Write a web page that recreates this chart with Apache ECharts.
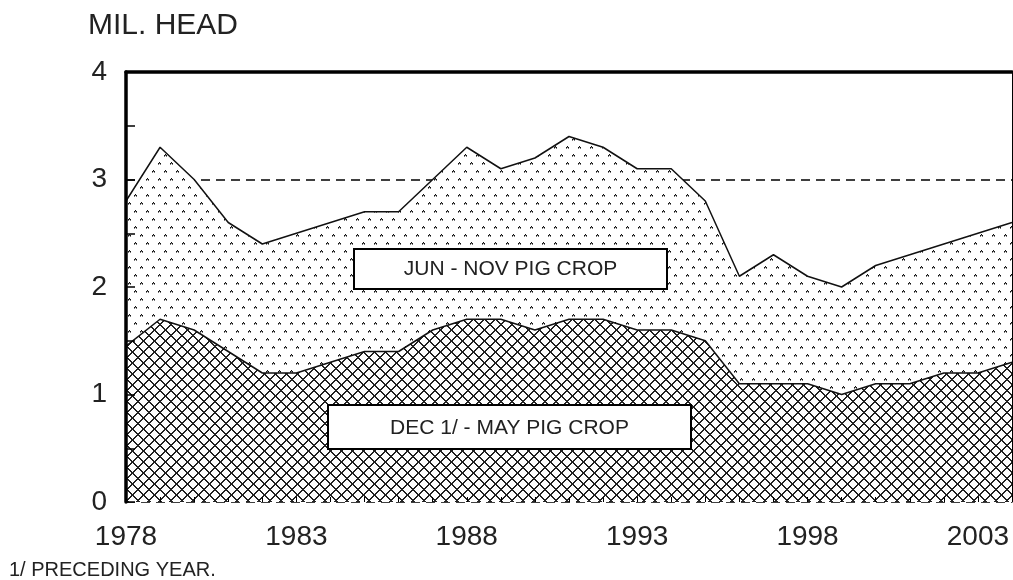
<!DOCTYPE html>
<html><head><meta charset="utf-8">
<script src="https://cdn.jsdelivr.net/npm/echarts@6/dist/echarts.min.js"></script>
<style>html,body{margin:0;padding:0;background:#fff}#c{width:1013px;height:580px}</style>
</head><body><div id="c"></div>
<script>
// ---- data ----
const years = ['1978','1979','1980','1981','1982','1983','1984','1985','1986','1987','1988','1989','1990',
  '1991','1992','1993','1994','1995','1996','1997','1998','1999','2000','2001','2002','2003','2004'];
// Dec (preceding year) - May pig crop, million head
const decMay = [1.45,1.7,1.6,1.4,1.2,1.2,1.3,1.4,1.4,1.6,1.7,1.7,1.6,1.7,1.7,1.6,1.6,1.5,1.1,1.1,1.1,1.0,1.1,1.1,1.2,1.2,1.3];
// Jun - Nov pig crop, million head (stacked on top)
const junNov = [1.35,1.6,1.4,1.2,1.2,1.3,1.3,1.3,1.3,1.4,1.6,1.4,1.6,1.7,1.6,1.5,1.5,1.3,1.0,1.2,1.0,1.0,1.1,1.2,1.2,1.3,1.3];
const refLevel = 3;
const titleText = 'MIL. HEAD';
const noteText = '1/ PRECEDING YEAR.';
const labelUpper = 'JUN - NOV PIG CROP';
const labelLower = 'DEC 1/ - MAY PIG CROP';

const FONT = '"Liberation Sans", Arial, sans-serif';
const INK = '#222';

function dotPattern(){
  const w = 12, h = 16;
  const c = document.createElement('canvas'); c.width = w; c.height = h;
  const g = c.getContext('2d');
  g.fillStyle = '#fff'; g.fillRect(0,0,w,h);
  function mark(x,y){
    g.fillStyle = '#111';
    g.fillRect(x+1,y,1,1); g.fillRect(x,y+1,1,1); g.fillRect(x+2,y+1,1,1);
    g.fillStyle = '#777';
    g.fillRect(x+1,y+1,1,1); g.fillRect(x,y+2,1,1); g.fillRect(x+2,y+2,1,1);
  }
  mark(2,2); mark(8,10);
  return c;
}
function hatchPattern(){
  const s = 11;
  const c = document.createElement('canvas'); c.width = s; c.height = s;
  const g = c.getContext('2d');
  g.fillStyle = '#fff'; g.fillRect(0,0,s,s);
  g.fillStyle = '#222';
  for (let i = 0; i < s; i++) {
    g.fillRect(i, i, 1, 1); g.fillRect((i+1)%s, i, 1, 1);
    g.fillRect(s-1-i, i, 1, 1); g.fillRect((s-i)%s, i, 1, 1);
  }
  return c;
}

const chart = echarts.init(document.getElementById('c'), null, {renderer:'canvas'});
chart.setOption({
  animation: false,
  backgroundColor: '#fff',
  grid: { left: 126, right: 1, top: 72, bottom: 78 },
  xAxis: [{
    type: 'category', data: years, boundaryGap: false, z: 3,
    axisLine: { show: false },
    axisTick: { show: true, inside: true, interval: 0, length: 5, lineStyle: { color: '#000', width: 1 } },
    axisLabel: { interval: 4, margin: 21, fontSize: 28, fontFamily: FONT, color: INK },
    splitLine: { show: false }
  }, {
    type: 'category', data: years, boundaryGap: false, position: 'top', z: 3,
    axisLine: { show: true, onZero: false, lineStyle: { color: '#000', width: 3.5 } },
    axisTick: { show: false }, axisLabel: { show: false }, splitLine: { show: false }
  }],
  yAxis: [{
    type: 'value', min: 0, max: 4, interval: 0.5, z: 3,
    axisLine: { show: true, onZero: false, lineStyle: { color: '#000', width: 3.5 } },
    axisTick: { show: true, inside: true, length: 9, lineStyle: { color: '#000', width: 1.5 } },
    axisLabel: { margin: 19, fontSize: 28, fontFamily: FONT, color: INK,
      formatter: v => (v % 1 === 0 ? String(v) : '') },
    splitLine: { show: false }
  }, {
    type: 'value', min: 0, max: 4, interval: refLevel, position: 'right', z: 0,
    axisLine: { show: true, onZero: false, lineStyle: { color: '#000', width: 1 } },
    axisTick: { show: false }, axisLabel: { show: false },
    splitLine: { show: true, lineStyle: { color: '#000', width: 1.5, type: [9, 6] } }
  }],
  series: [{
    name: labelLower, type: 'line', stack: 'total', data: decMay, symbol: 'none', z: 2,
    lineStyle: { color: '#111', width: 1.5 },
    areaStyle: { color: { image: hatchPattern(), repeat: 'repeat' }, opacity: 1 }
  }, {
    name: labelUpper, type: 'line', stack: 'total', data: junNov, symbol: 'none', z: 2,
    lineStyle: { color: '#111', width: 1.5 },
    areaStyle: { color: { image: dotPattern(), repeat: 'repeat' }, opacity: 1 }
  }],
  graphic: [
    { type: 'text', left: 88, top: 11, z: 10,
      style: { text: titleText, font: '30px ' + FONT, fill: INK } },
    { type: 'text', left: 9, top: 560, z: 10,
      style: { text: noteText, font: '20px ' + FONT, fill: INK } },
    { type: 'rect', z: 10, shape: { x: 354, y: 249, width: 313, height: 40 },
      style: { fill: '#fff', stroke: '#000', lineWidth: 2 } },
    { type: 'text', z: 11, x: 510.5, y: 269,
      style: { text: labelUpper, font: '21px ' + FONT, fill: INK, align: 'center', verticalAlign: 'middle' } },
    { type: 'rect', z: 10, shape: { x: 328, y: 405, width: 363, height: 44 },
      style: { fill: '#fff', stroke: '#000', lineWidth: 2 } },
    { type: 'text', z: 11, x: 509.5, y: 428,
      style: { text: labelLower, font: '21px ' + FONT, fill: INK, align: 'center', verticalAlign: 'middle' } }
  ]
});
</script></body></html>
